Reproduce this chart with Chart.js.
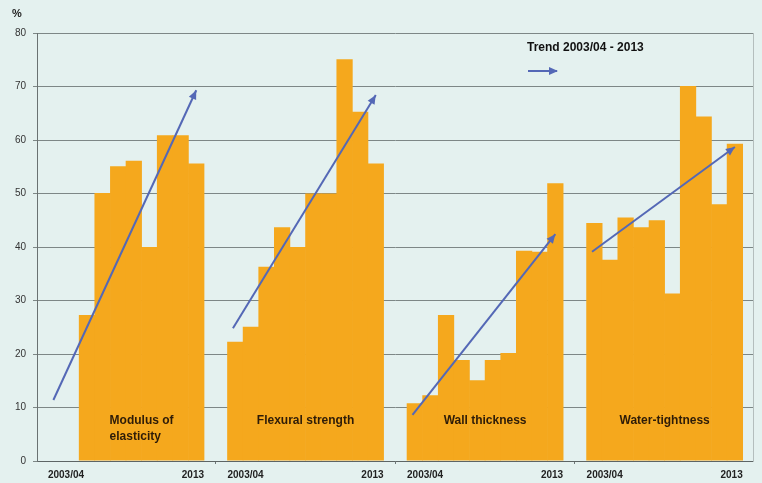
<!DOCTYPE html>
<html>
<head>
<meta charset="utf-8">
<script src="https://cdn.jsdelivr.net/npm/chart.js@4.4.0/dist/chart.umd.min.js"></script>
<style>
  html, body { margin: 0; padding: 0; background: #e4f1ef; }
  #wrap { width: 762px; height: 483px; }
</style>
</head>
<body>
<div id="wrap"><canvas id="grafica" width="762" height="483"></canvas></div>
<script>
// años de cada grupo (solo se rotulan el primero y el último)
const years = ["2003/04", "2005", "2006", "2007", "2008", "2009", "2010", "2011", "2012", "2013"];
const groupNames = [["Modulus of", "elasticity"], ["Flexural strength"], ["Wall thickness"], ["Water-tightness"]];

// datos en %
const modulus = [null, null, 27.3, 50.1, 55.1, 56.1, 40.0, 60.9, 60.9, 55.6];
const flexural = [22.3, 25.1, 36.3, 43.7, 40.0, 50.0, 50.0, 75.1, 65.3, 55.6];
const wall = [10.8, 12.3, 27.3, 18.9, 15.1, 18.9, 20.2, 39.3, 39.1, 51.9];
const water = [44.5, 37.6, 45.5, 43.7, 45.0, 31.3, 70.1, 64.4, 48.0, 59.3];
const seriesList = [modulus, flexural, wall, water];

// tendencia 2003/04 - 2013 (valor inicial y final)
const trendStart = [11.4, 24.8, 8.6, 39.1];
const trendEnd = [69.3, 68.4, 42.4, 58.7];

const yTicks = [0, 10, 20, 30, 40, 50, 60, 70, 80];

const ORANGE = "#f5a81d";
const BLUE = "#5468b6";
const FONT = '"Liberation Sans", Arial, sans-serif';

const GROUP_STEP = years.length + 1.5; // 10 años + hueco
const slotX = (g, i) => g * GROUP_STEP + i;

const barDatasets = seriesList.map((serie, g) => ({
  type: "bar",
  data: serie.map((v, i) => ({ x: slotX(g, i), y: v })),
  backgroundColor: ORANGE,
  borderWidth: 0,
  barPercentage: 1.04,
  categoryPercentage: 1,
  grouped: false,
  order: 2,
}));

const trendDatasets = seriesList.map((serie, g) => ({
  type: "line",
  data: [
    { x: slotX(g, -0.15), y: trendStart[g] },
    { x: slotX(g, years.length - 1), y: trendEnd[g] },
  ],
  borderColor: BLUE,
  borderWidth: 2,
  pointRadius: 0,
  order: 1,
  isTrend: true,
}));

const drawArrowHead = (ctx, x0, y0, x1, y1) => {
  const ang = Math.atan2(y1 - y0, x1 - x0);
  const len = 9, half = 4;
  ctx.beginPath();
  ctx.moveTo(x1, y1);
  ctx.lineTo(x1 - len * Math.cos(ang) + half * Math.sin(ang), y1 - len * Math.sin(ang) - half * Math.cos(ang));
  ctx.lineTo(x1 - len * Math.cos(ang) - half * Math.sin(ang), y1 - len * Math.sin(ang) + half * Math.cos(ang));
  ctx.closePath();
  ctx.fill();
};

const fondoPlugin = {
  id: "fondo",
  beforeDraw(chart) {
    const ctx = chart.ctx;
    ctx.save();
    ctx.fillStyle = "#e4f1ef";
    ctx.fillRect(0, 0, chart.width, chart.height);
    ctx.restore();
  },
};

const flechasPlugin = {
  id: "flechas",
  afterDatasetsDraw(chart) {
    const ctx = chart.ctx;
    ctx.save();
    ctx.fillStyle = BLUE;
    chart.data.datasets.forEach((ds, idx) => {
      if (!ds.isTrend) return;
      const pts = chart.getDatasetMeta(idx).data;
      drawArrowHead(ctx, pts[0].x, pts[0].y, pts[1].x, pts[1].y);
    });
    ctx.restore();
  },
};

const etiquetasPlugin = {
  id: "etiquetas",
  afterDraw(chart) {
    const { ctx, chartArea, scales } = chart;
    const x = scales.x;
    ctx.save();

    // rótulos del eje x
    ctx.font = "bold 10px " + FONT;
    ctx.fillStyle = "#222";
    ctx.textBaseline = "middle";
    seriesList.forEach((serie, g) => {
      ctx.textAlign = "left";
      ctx.fillText(years[0], x.getPixelForValue(slotX(g, -0.5)), chartArea.bottom + 14);
      ctx.textAlign = "right";
      ctx.fillText(years[years.length - 1], x.getPixelForValue(slotX(g, years.length - 0.5)), chartArea.bottom + 14);
    });

    // nombre de cada grupo dentro de las barras
    ctx.font = "bold 12px " + FONT;
    ctx.fillStyle = "#2e1c08";
    ctx.textAlign = "left";
    seriesList.forEach((serie, g) => {
      const idx = serie.map((v, i) => (v === null ? -1 : i)).filter((i) => i >= 0);
      const mid = (idx[0] + idx[idx.length - 1]) / 2;
      const cx = x.getPixelForValue(slotX(g, mid));
      const lines = groupNames[g];
      const w = Math.max(...lines.map((l) => ctx.measureText(l).width));
      lines.forEach((l, k) => {
        ctx.fillText(l, cx - w / 2, chartArea.bottom - 40 + k * 16);
      });
    });

    // unidad del eje y
    ctx.font = "bold 11px " + FONT;
    ctx.fillStyle = "#222";
    ctx.fillText("%", 12, 14);

    // leyenda
    ctx.font = "bold 12px " + FONT;
    ctx.fillStyle = "#111";
    ctx.fillText("Trend " + years[0] + " - " + years[years.length - 1], 527, 48);
    ctx.strokeStyle = BLUE;
    ctx.fillStyle = BLUE;
    ctx.lineWidth = 2;
    ctx.beginPath();
    ctx.moveTo(528, 71);
    ctx.lineTo(557, 71);
    ctx.stroke();
    drawArrowHead(ctx, 528, 71, 558, 71);

    ctx.restore();
  },
};

Chart.defaults.font.family = FONT;

new Chart(document.getElementById("grafica"), {
  type: "bar",
  data: { datasets: [...trendDatasets, ...barDatasets] },
  options: {
    responsive: false,
    animation: false,
    devicePixelRatio: 1,
    layout: { padding: { top: 33, left: 0, right: 0, bottom: 0 } },
    plugins: { legend: { display: false }, tooltip: { enabled: false } },
    scales: {
      x: {
        type: "linear",
        offset: false,
        min: -1.2,
        max: slotX(seriesList.length - 1, years.length - 1) + 1.16,
        afterBuildTicks: (scale) => {
          scale.ticks = seriesList.slice(1).map((s, g) => ({ value: slotX(g, years.length + 0.25) }));
        },
        afterFit: (scale) => { scale.height = 22; },
        ticks: { display: false },
        grid: { offset: false, drawOnChartArea: false, tickLength: 3, color: "#6f7777" },
        border: { color: "#5d6565", width: 1 },
      },
      y: {
        min: 0,
        max: 80,
        afterBuildTicks: (scale) => {
          scale.ticks = yTicks.map((v) => ({ value: v }));
        },
        afterFit: (scale) => { scale.width = 37; },
        ticks: { font: { size: 10 }, color: "#333", padding: 7 },
        grid: { color: "#7d8786", lineWidth: 1, tickLength: 4 },
        border: { color: "#6a7272", width: 1 },
      },
      y2: {
        position: "right",
        min: 0,
        max: 80,
        afterFit: (scale) => { scale.width = 9; },
        ticks: { display: false },
        grid: { display: false },
        border: { display: true, color: "#b4bebd", width: 1 },
      },
    },
  },
  plugins: [fondoPlugin, flechasPlugin, etiquetasPlugin],
});
</script>
</body>
</html>
